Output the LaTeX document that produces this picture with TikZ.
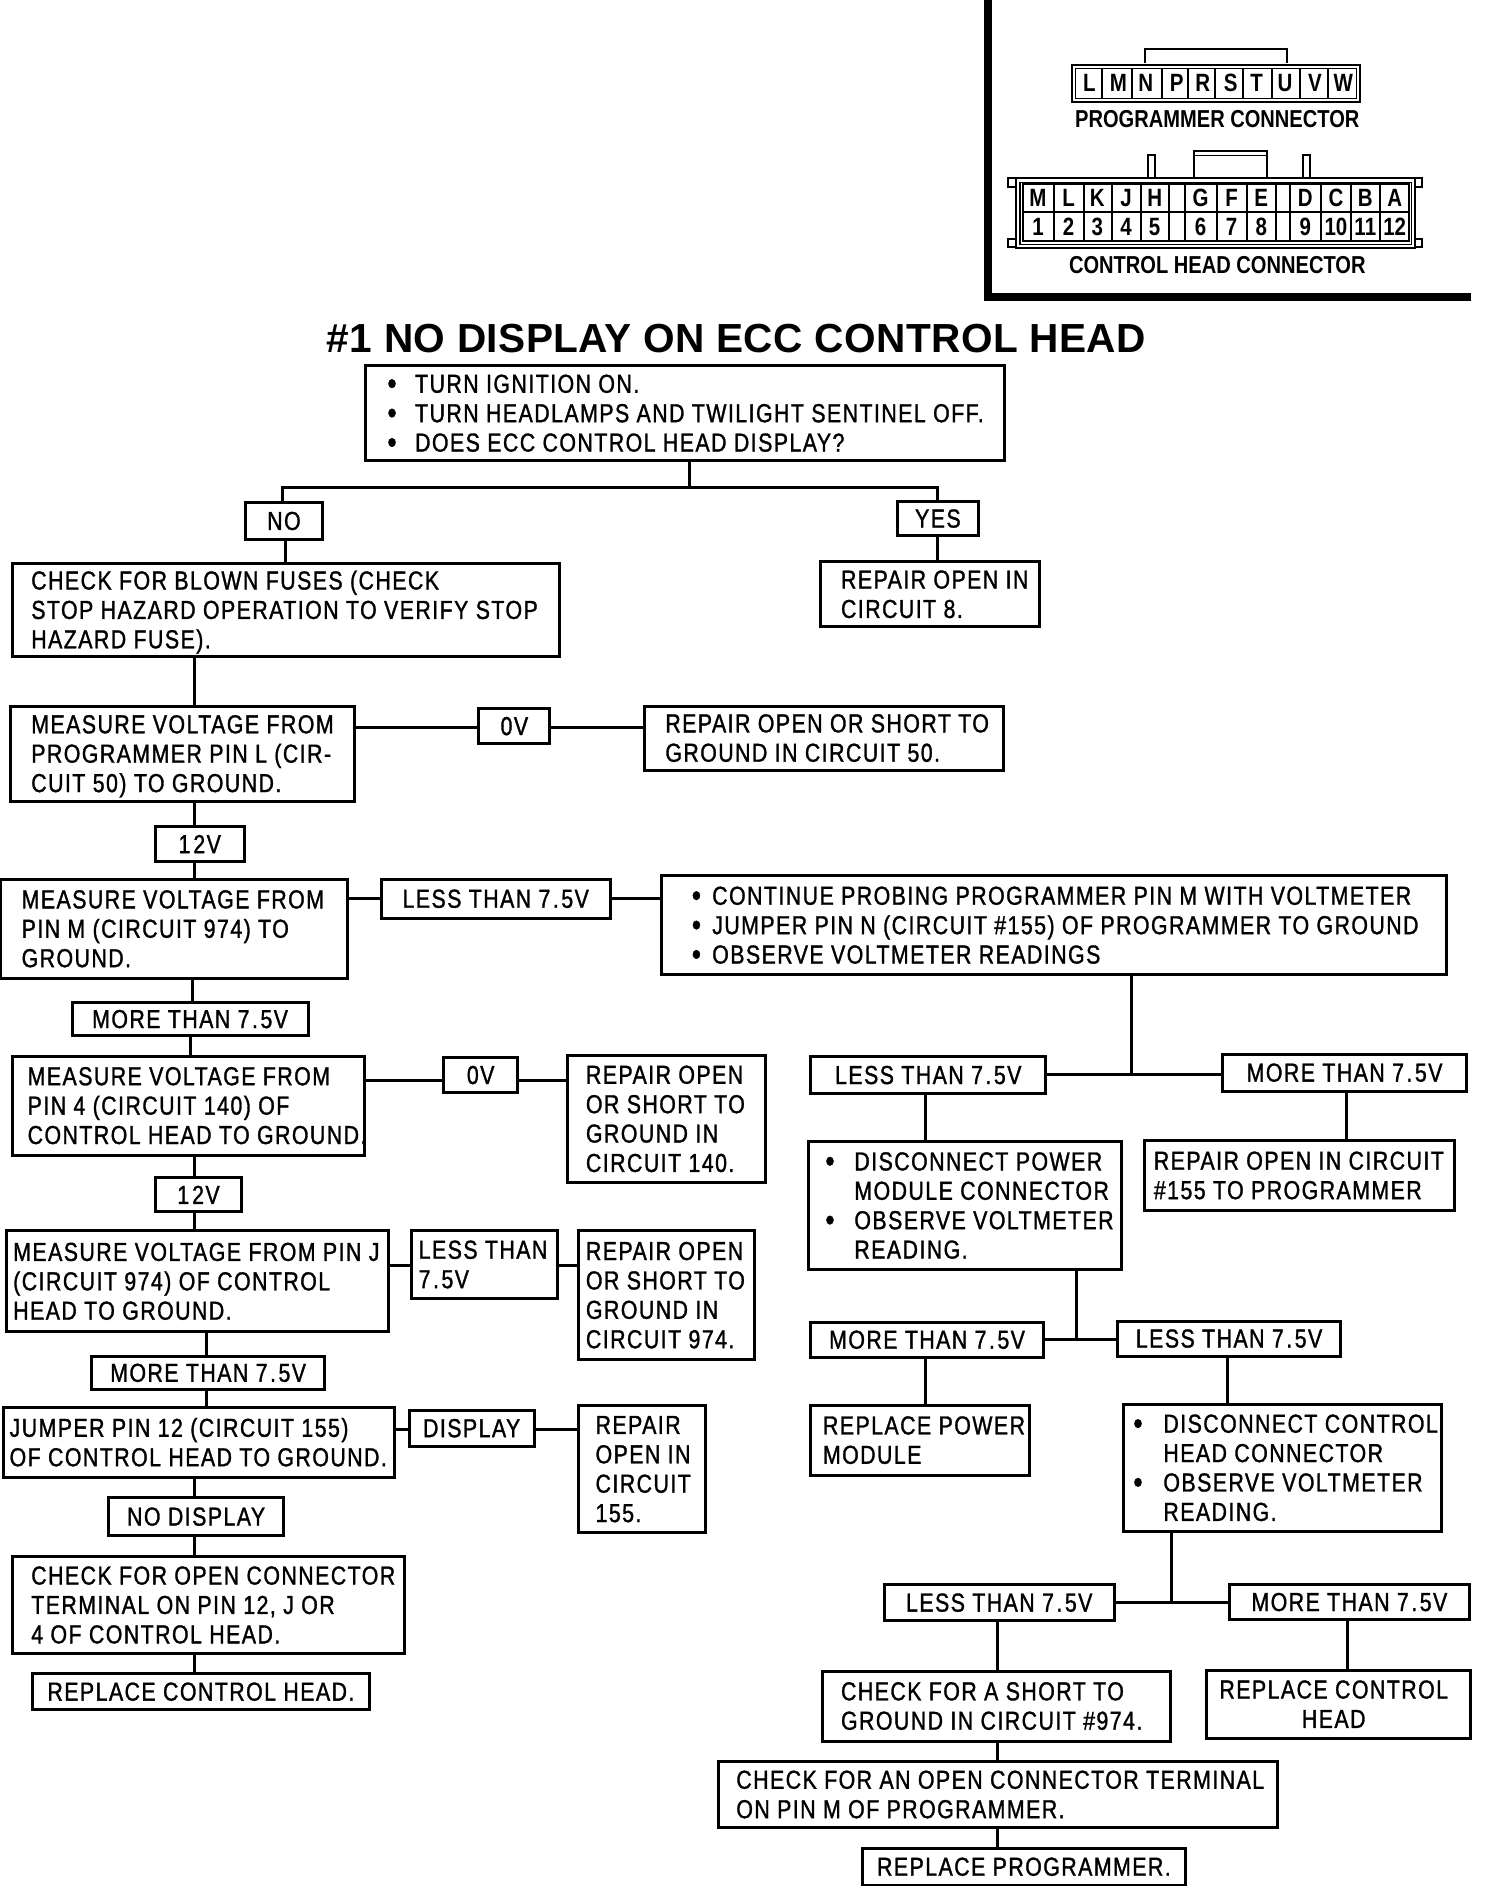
\documentclass[tikz,border=0pt]{standalone}
\usepackage{fontspec}
\setmainfont{Liberation Sans}
\newfontfamily\bodyf[FakeBold=1.2,FakeStretch=0.82,LetterSpace=5.6]{Liberation Sans}
\newfontfamily\headf[LetterSpace=1]{Liberation Sans Bold}
\newfontfamily\labelf[FakeStretch=0.82]{Liberation Sans Bold}
\newcommand\bodyfont{\bodyf\fontsize{26}{29.4}\selectfont}
\newcommand\bl{\makebox[\bulw][l]{\raisebox{-1.5pt}{\fontsize{32}{29.4}\selectfont\textbullet}}}
\newlength\bulw
\newcommand\ind{\hspace*{\bulw}}
\newcommand\sv{7\kern2.5pt.\kern2.5pt5V}
\newcommand\bx[6]{%
 \pgfmathsetmacro\cx{(#2+#4)/2}\pgfmathsetmacro\cy{(#3+#5)/2}%
 \pgfmathsetmacro\w{(#4-#2)*1.2032}\pgfmathsetmacro\h{(#5-#3)*1.2032}%
 \pgfmathsetmacro\p{(#6)*1.2032}%
 \node[box,minimum width=\w pt,minimum height=\h pt] (#1) at (\cx,\cy)
 {\makebox[\w pt][l]{\hspace*{\p pt}\raisebox{-5.5pt}[0pt][0pt]{\parbox{\w pt}{\bodyfont\raggedright\strut\TextArg\strut}}}};}
\newcommand\tb[7]{\def\TextArg{#7}\bx{#1}{#2}{#3}{#4}{#5}{#6}}
\newcommand\lb[6]{%
 \pgfmathsetmacro\cx{(#2+#4)/2}\pgfmathsetmacro\cy{(#3+#5)/2}%
 \pgfmathsetmacro\w{(#4-#2)*1.2032}\pgfmathsetmacro\h{(#5-#3)*1.2032}%
 \node[box,minimum width=\w pt,minimum height=\h pt] (#1) at (\cx,\cy) {\bodyfont #6};}
\newcommand\vc[3]{\draw[conn] (#1.south -| #3,0) -- (#2.north -| #3,0);}
\newcommand\hc[3]{\draw[conn] (#1.east |- 0,#3) -- (#2.west |- 0,#3);}
\tikzset{
 box/.style={draw=black,line width=3pt,fill=white,inner sep=0pt,outer sep=0pt,align=left},
 conn/.style={draw=black,line width=3pt},
 pin/.style={font=\labelf\fontsize{25}{26}\selectfont,inner sep=0pt},
 conlabel/.style={font=\labelf\fontsize{24.5}{26}\selectfont,inner sep=0pt}
}
\begin{document}
\begin{tikzpicture}[x=1.2032pt,y=-1.2032pt]
\useasboundingbox[fill=white] (0,0) rectangle (1250,1567.5);
% title
\node[inner sep=0pt,font=\headf\fontsize{40.6}{42}\selectfont] (title) at (612,281) {\#1 NO DISPLAY ON ECC CONTROL HEAD};
% top
\setlength\bulw{27.7pt}
\tb{top}{304}{304}{835}{383}{18}{\bl TURN IGNITION ON.\\\bl TURN HEADLAMPS AND TWILIGHT SENTINEL OFF.\\\bl DOES ECC CONTROL HEAD DISPLAY?}
\lb{no}{204}{418}{268}{448}{NO}
\lb{yes}{746}{417}{813}{445}{YES}
\tb{blown}{10}{468}{465}{546}{16}{CHECK FOR BLOWN FUSES (CHECK\\STOP HAZARD OPERATION TO VERIFY STOP\\HAZARD FUSE).}
\tb{rep8}{682}{467}{864}{521}{17}{REPAIR OPEN IN\\CIRCUIT 8.}
\tb{mL}{9}{587}{295}{666}{17}{MEASURE VOLTAGE FROM\\PROGRAMMER PIN L (CIR-\\CUIT 50) TO GROUND.}
\lb{ova}{398}{589}{457}{618}{0V}
\tb{rep50}{536}{587}{834}{640}{17}{REPAIR OPEN OR SHORT TO\\GROUND IN CIRCUIT 50.}
\lb{va}{129}{687}{203}{716}{1\kern3pt 2V}
\tb{mM}{0}{731}{289}{813}{18}{MEASURE VOLTAGE FROM\\PIN M (CIRCUIT 974) TO\\GROUND.}
\lb{lessa}{317}{731}{507}{763}{LESS THAN \sv}
\setlength\bulw{20.4pt}
\tb{cont}{550}{728}{1202}{810}{25}{\bl CONTINUE PROBING PROGRAMMER PIN M WITH VOLTMETER\\\bl JUMPER PIN N (CIRCUIT \#155) OF PROGRAMMER TO GROUND\\\bl OBSERVE VOLTMETER READINGS}
\lb{morea}{60}{833}{256}{861}{MORE THAN \sv}
\tb{m4}{10}{878}{303}{960}{13}{MEASURE VOLTAGE FROM\\PIN 4 (CIRCUIT 140) OF\\CONTROL HEAD TO GROUND.}
\lb{ovb}{369}{879}{430}{908}{0V}
\tb{rep140}{472}{877}{636}{983}{15}{REPAIR OPEN\\OR SHORT TO\\GROUND IN\\CIRCUIT 140.}
\lb{vb}{129}{979}{201}{1007}{1\kern3pt 2V}
\tb{mJ}{5}{1023}{323}{1107}{6}{MEASURE VOLTAGE FROM PIN J\\(CIRCUIT 974) OF CONTROL\\HEAD TO GROUND.}
\tb{lessb}{342}{1023}{463}{1079}{6}{LESS THAN\\\sv}
\tb{rep974}{481}{1023}{627}{1130}{6}{REPAIR OPEN\\OR SHORT TO\\GROUND IN\\CIRCUIT 974.}
\lb{moreb}{76}{1127}{270}{1155}{MORE THAN \sv}
\tb{jump}{3}{1170}{328}{1228}{5}{JUMPER PIN 12 (CIRCUIT 155)\\OF CONTROL HEAD TO GROUND.}
\lb{disp}{340}{1172}{444}{1202}{DISPLAY}
\tb{rep155}{481}{1168}{586}{1274}{14}{REPAIR\\OPEN IN\\CIRCUIT\\155.}
\lb{nodisp}{90}{1245}{236}{1276}{NO DISPLAY}
\tb{chk}{10}{1294}{336}{1374}{16}{CHECK FOR OPEN CONNECTOR\\TERMINAL ON PIN 12, J OR\\4 OF CONTROL HEAD.}
\lb{repch}{27}{1391}{307}{1421}{REPLACE CONTROL HEAD.}
% right
\lb{lessc}{674}{878}{869}{909}{LESS THAN \sv}
\lb{morec}{1016}{876}{1219}{907}{MORE THAN \sv}
\setlength\bulw{29pt}
\tb{dpm}{672}{949}{932}{1055}{14}{\bl DISCONNECT POWER\\\ind MODULE CONNECTOR\\\bl OBSERVE VOLTMETER\\\ind READING.}
\tb{rep155b}{951}{948}{1209}{1006}{8}{REPAIR OPEN IN CIRCUIT\\\#155 TO PROGRAMMER}
\lb{mored}{674}{1099}{867}{1128}{MORE THAN \sv}
\lb{lessd}{929}{1098}{1114}{1127}{LESS THAN \sv}
\tb{reppm}{674}{1168}{856}{1226}{10}{REPLACE POWER\\MODULE}
\setlength\bulw{30pt}
\tb{dch}{934}{1167}{1198}{1273}{8}{\bl DISCONNECT CONTROL\\\ind HEAD CONNECTOR\\\bl OBSERVE VOLTMETER\\\ind READING.}
\lb{lesse}{735}{1317}{926}{1347}{LESS THAN \sv}
\lb{moree}{1022}{1317}{1221}{1346}{MORE THAN \sv}
\tb{short}{684}{1389}{973}{1447}{15}{CHECK FOR A SHORT TO\\GROUND IN CIRCUIT \#974.}
\tb{repchb}{1003}{1388}{1222}{1445}{-4}{\centering REPLACE CONTROL\\HEAD}
\tb{chkm}{597}{1464}{1062}{1519}{15}{CHECK FOR AN OPEN CONNECTOR TERMINAL\\ON PIN M OF PROGRAMMER.}
\lb{repprog}{717}{1536}{985}{1567}{REPLACE PROGRAMMER.}
% connectors
\coordinate (jtop) at (573,405);
\coordinate (jc) at (940,893);
\coordinate (jd) at (895,1113);
\coordinate (je) at (974,1332);
\draw[conn] (top.south -| jtop) -- (jtop);
\draw[conn] (no.north -| 235,0) -- (235,405) -- (779,405) -- (yes.north -| 779,0);
\vc{no}{blown}{237}
\vc{yes}{rep8}{779}
\vc{blown}{mL}{162}
\hc{mL}{ova}{605}\hc{ova}{rep50}{605}
\vc{mL}{va}{162}\vc{va}{mM}{162}
\hc{mM}{lessa}{747}\hc{lessa}{cont}{747}
\vc{mM}{morea}{160}\vc{morea}{m4}{158}
\draw[conn] (cont.south -| jc) -- (jc);
\hc{lessc}{morec}{893}
\hc{m4}{ovb}{898}\hc{ovb}{rep140}{898}
\vc{m4}{vb}{162}\vc{vb}{mJ}{162}
\hc{mJ}{lessb}{1052}\hc{lessb}{rep974}{1052}
\vc{mJ}{moreb}{172}\vc{moreb}{jump}{172}
\hc{jump}{disp}{1188}\hc{disp}{rep155}{1188}
\vc{jump}{nodisp}{162}\vc{nodisp}{chk}{162}\vc{chk}{repch}{162}
\vc{lessc}{dpm}{769}\vc{morec}{rep155b}{1119}
\draw[conn] (dpm.south -| jd) -- (jd);
\hc{mored}{lessd}{1113}
\vc{mored}{reppm}{769}\vc{lessd}{dch}{1020}
\draw[conn] (dch.south -| je) -- (je);
\hc{lesse}{moree}{1332}
\vc{lesse}{short}{829}\vc{moree}{repchb}{1120}
\vc{short}{chkm}{829}\vc{chkm}{repprog}{829}
% inset
\begin{scope}[shift={(980pt,0pt)},x=0.33333pt,y=-0.33333pt]
\coordinate (fa) at (25,-5);\coordinate (fb) at (25,891);\coordinate (fc) at (1473,891);
\draw[black,line width=8pt,line join=miter] (fa) -- (fb) -- (fc);
% programmer connector
\draw[line width=2.2pt] (495,190) -- (495,146) -- (920,146) -- (920,190);
\draw[line width=2.2pt] (275,195) rectangle (1140,305);
\draw[line width=1pt] (285,205) rectangle (1130,295);
\foreach \x in {365,455,545,625,705,790,875,960,1045}{\draw[line width=2pt] (\x,203) -- (\x,297);}
\foreach \l/\x in {L/328,M/415,N/497,P/590,R/668,S/752,T/830,U/915,V/1005,W/1090}{\node[pin] (pg\l) at (\x,248) {\l};}
\node[conlabel] (pglabel) at (712,358) {PROGRAMMER CONNECTOR};
% control head connector
\draw[line width=2pt] (505,533) -- (505,465) -- (525,465) -- (525,533);
\draw[line width=2pt] (970,533) -- (970,465) -- (990,465) -- (990,533);
\draw[line width=2.2pt] (642,533) -- (642,453) -- (860,453) -- (860,533);
\draw[line width=1pt] (642,466) -- (860,466);
\draw[line width=2.2pt] (108,535) rectangle (1305,745);
\draw[line width=1.2pt] (120,547) rectangle (1295,733);
\foreach \a/\b in {83/108,1305/1325}{
  \draw[line width=1.8pt] (\a,535) rectangle (\b,562);
  \draw[line width=1.8pt] (\a,717) rectangle (\b,742);}
\draw[line width=2pt] (128,552) rectangle (1288,724);
\draw[line width=2pt] (128,637) -- (1288,637);
\foreach \x in {221,311,396,483,568,616,711,801,889,931,1023,1113,1201}{\draw[line width=2pt] (\x,552) -- (\x,724);}
\foreach \l/\x in {M/174,L/266,K/352,J/438,H/524,G/662,F/755,E/844,D/976,C/1068,B/1156,A/1244}{\node[pin] (ch\l) at (\x,593) {\l};}
\foreach \l/\x in {1/174,2/266,3/352,4/438,5/524,6/662,7/755,8/844,9/976,10/1068,11/1156,12/1244}{\node[pin] (cn\l) at (\x,681) {\l};}
\node[conlabel] (chlabel) at (712,795) {CONTROL HEAD CONNECTOR};
\end{scope}
\end{tikzpicture}
\end{document}
